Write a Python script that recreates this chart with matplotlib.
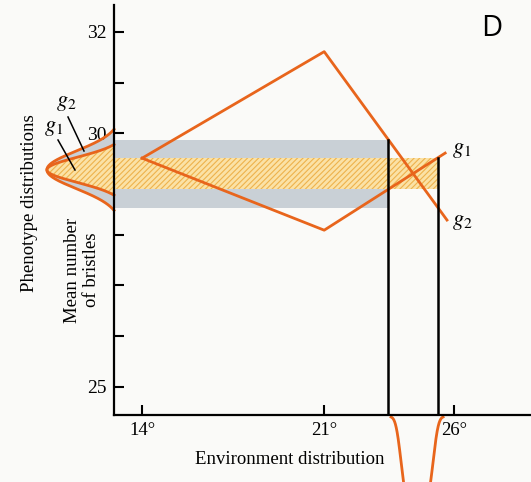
import numpy as np
import matplotlib
matplotlib.use("Agg")
import matplotlib.pyplot as plt

plt.rcParams['mathtext.fontset'] = 'stix'
plt.rcParams['hatch.linewidth'] = 0.8

# norms of reaction: mean bristle number vs temperature
g1_temp = [14, 21, 25.65]
g1_bristles = [29.51, 28.09, 29.61]
g2_temp = [14, 21, 25.72]
g2_bristles = [29.51, 31.61, 28.29]

# environment range covered by the distribution
env_low, env_high = 23.47, 25.37
env_center, env_width, env_depth = 24.57, 0.66, 1.9

# phenotype distributions (drawn left of the y axis)
pheno_center = 29.28
g1_sigma, g1_reach = 0.25, 0.5
g2_sigma, g2_reach = 0.37, 0.8
pheno_height = 2.58

x_ticks = [14, 21, 26]
x_ticklabels = ['14°', '21°', '26°']
y_ticks = [25, 26, 27, 28, 29, 30, 31, 32]
y_ticklabels = ['25', '', '', '', '', '30', '', '32']

ORANGE = '#e8651c'
GRAY = '#c9d0d6'
BAND = '#fbe2a6'
HATCH = '#eeb24c'
PAPER = '#fafaf8'
SERIF = 'Liberation Serif'

W, H = 531, 482


def px(x, y):
    return x / W, 1 - y / H


def bell(y, sigma, reach):
    # gaussian bump that touches zero at +-reach
    g = np.exp(-(y - pheno_center) ** 2 / (2 * sigma ** 2))
    g0 = np.exp(-reach ** 2 / (2 * sigma ** 2))
    return (g - g0) / (1 - g0)


fig = plt.figure(figsize=(W / 100, H / 100), dpi=100, facecolor=PAPER)
ax = fig.add_axes([114 / W, (H - 415) / H, (W - 114) / W, (415 - 5) / H])
ax.set_facecolor('none')
ax.set_xlim(12.92, 28.95)
ax.set_ylim(24.446, 32.53)

# ranges of phenotype produced over the environment range
g1_range = np.interp([env_low, env_high], g1_temp, g1_bristles)
g2_range = np.interp([env_low, env_high], g2_temp, g2_bristles)
x0 = ax.get_xlim()[0]
ax.fill_between([x0, env_low], g2_range.min(), g2_range.max(),
                color=GRAY, lw=0, zorder=1)
ax.fill_between([x0, env_high], g1_range.min(), g1_range.max(),
                facecolor=BAND, edgecolor=HATCH, hatch='//////', lw=0, zorder=2)

ax.plot(g1_temp, g1_bristles, color=ORANGE, lw=2, zorder=4)
ax.plot(g2_temp, g2_bristles, color=ORANGE, lw=2, zorder=4)

y0 = ax.get_ylim()[0]
ax.plot([env_low, env_low], [y0, g2_range.max()], color='black', lw=1.8, zorder=5)
ax.plot([env_high, env_high], [y0, g1_range.max()], color='black', lw=1.8, zorder=5)

# phenotype distributions
yy2 = np.linspace(pheno_center - g2_reach, pheno_center + g2_reach, 300)
yy1 = np.linspace(pheno_center - g1_reach, pheno_center + g1_reach, 300)
g2_curve = x0 - pheno_height * bell(yy2, g2_sigma, g2_reach)
g1_curve = x0 - pheno_height * bell(yy1, g1_sigma, g1_reach)
ax.fill_betweenx(yy2, g2_curve, x0, color=GRAY, lw=0, clip_on=False, zorder=1)
ax.fill_betweenx(yy1, g1_curve, x0, facecolor=BAND, edgecolor=HATCH,
                 hatch='//////', lw=0, clip_on=False, zorder=2)
ax.plot(g2_curve, yy2, color=ORANGE, lw=2, clip_on=False, zorder=3)
ax.plot(g1_curve, yy1, color=ORANGE, lw=2, clip_on=False, zorder=3)

# environment distribution (below the x axis), steep-walled U
xx = np.linspace(env_center - 1.0, env_center + 1.0, 300)
env_curve = y0 - 0.03 - env_depth * np.exp(-((xx - env_center) / env_width) ** 4)
ax.plot(xx, env_curve, color=ORANGE, lw=2, clip_on=False, zorder=3)

for s in ['top', 'right']:
    ax.spines[s].set_visible(False)
for s in ['left', 'bottom']:
    ax.spines[s].set_linewidth(1.6)
    ax.spines[s].set_zorder(6)

ax.set_xticks(x_ticks)
ax.set_xticklabels(x_ticklabels, fontsize=13.5, family=SERIF)
ax.set_yticks(y_ticks)
ax.set_yticklabels(y_ticklabels, fontsize=14, family=SERIF)
ax.tick_params(direction='in', length=7, width=1.5, pad=5)

# labels
fig.text(*px(290, 460), 'Environment distribution', fontsize=13.5, family=SERIF,
         ha='center', va='center')
fig.text(*px(30, 203), 'Phenotype distributions', fontsize=13.5, family=SERIF,
         ha='center', va='center', rotation=90)
fig.text(*px(82, 270), 'Mean number\nof bristles', fontsize=13.5, family=SERIF,
         ha='center', va='center', rotation=90, linespacing=1.1)

fig.text(*px(462, 150), r'$g_1$', fontsize=16, ha='center', va='center')
fig.text(*px(462, 222), r'$g_2$', fontsize=16, ha='center', va='center')
fig.text(*px(66, 103), r'$g_2$', fontsize=16, ha='center', va='center')
fig.text(*px(54, 128), r'$g_1$', fontsize=16, ha='center', va='center')
fig.add_artist(plt.Line2D([68 / W, 84 / W], [1 - 117 / H, 1 - 151 / H],
                          color='black', lw=1.1))
fig.add_artist(plt.Line2D([58 / W, 75 / W], [1 - 140 / H, 1 - 170 / H],
                          color='black', lw=1.1))

fig.text(*px(492, 28), 'D', fontsize=21, family='Open Sans', ha='center', va='center')

fig.savefig('out.png', dpi=100, facecolor=PAPER)
